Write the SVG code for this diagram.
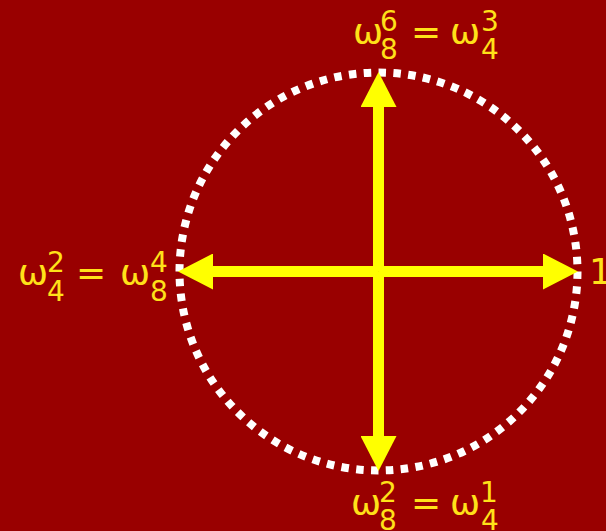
<svg xmlns="http://www.w3.org/2000/svg" width="606" height="531" viewBox="0 0 606 531">
<defs>
<style>
.lbl{font-family:"DejaVu Sans",sans-serif;fill:#ffe119}
.m{font-size:36px}
.s{font-size:28px}
.ax{stroke:#ffff00;stroke-width:11;fill:none;marker-end:url(#head)}
</style>
<marker id="head" markerUnits="userSpaceOnUse" markerWidth="36" markerHeight="36" refX="0" refY="18" orient="auto" viewBox="0 0 36 36">
<path d="M0,0 L35,18 L0,36 z" fill="#ffff00"/>
</marker>
</defs>
<rect width="606" height="531" fill="#990000"/>
<g id="circle">
<circle cx="378.5" cy="271.5" r="199" fill="none" stroke="#ffffff" stroke-width="8" stroke-dasharray="7.5 7.38"/>
</g>
<g id="connectors">
<line class="ax" x1="378.5" y1="271.5" x2="378.5" y2="107"/>
<line class="ax" x1="378.5" y1="271.5" x2="378.5" y2="436"/>
<line class="ax" x1="378.5" y1="271.5" x2="543" y2="271.5"/>
<line class="ax" x1="378.5" y1="271.5" x2="213" y2="271.5"/>
</g>
<g id="label-top" class="lbl">
<text class="m" x="353" y="44">ω</text>
<text class="s" x="380" y="31">6</text>
<text class="s" x="380" y="59">8</text>
<text class="m" x="411" y="44">=</text>
<text class="m" x="450" y="44">ω</text>
<text class="s" x="481" y="31">3</text>
<text class="s" x="481" y="59">4</text>
</g>
<g id="label-left" class="lbl">
<text class="m" x="18" y="285">ω</text>
<text class="s" x="47" y="272">2</text>
<text class="s" x="47" y="301">4</text>
<text class="m" x="76" y="285">=</text>
<text class="m" x="120" y="285">ω</text>
<text class="s" x="150" y="272">4</text>
<text class="s" x="150" y="301">8</text>
</g>
<g id="label-bottom" class="lbl">
<text class="m" x="351" y="515">ω</text>
<text class="s" x="379" y="502">2</text>
<text class="s" x="379" y="530">8</text>
<text class="m" x="411" y="515">=</text>
<text class="m" x="450" y="515">ω</text>
<text class="s" x="480" y="502">1</text>
<text class="s" x="481" y="530">4</text>
</g>
<g id="label-right" class="lbl">
<text class="m" x="589" y="284">1</text>
</g>
</svg>
